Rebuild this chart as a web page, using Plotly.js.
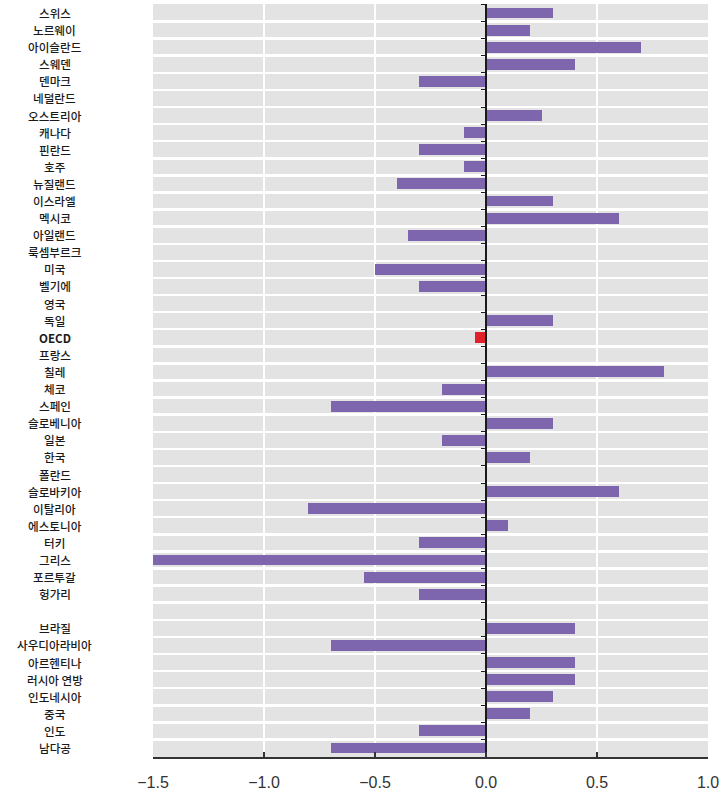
<!DOCTYPE html>
<html>
<head>
<meta charset="utf-8">
<script src="https://cdn.plot.ly/plotly-3.0.1.min.js"></script>
<style>html,body{margin:0;padding:0;background:#fff;}#chart{width:723px;height:793px;}</style>
</head>
<body>
<div id="chart"></div>
<script>
// Categories top to bottom (' ' is the empty spacer row)
const categories = ['스위스','노르웨이','아이슬란드','스웨덴','덴마크','네덜란드','오스트리아','캐나다','핀란드','호주',
  '뉴질랜드','이스라엘','멕시코','아일랜드','룩셈부르크','미국','벨기에','영국','독일','OECD',
  '프랑스','칠레','체코','스페인','슬로베니아','일본','한국','폴란드','슬로바키아','이탈리아',
  '에스토니아','터키','그리스','포르투갈','헝가리',' ',
  '브라질','사우디아라비아','아르헨티나','러시아 연방','인도네시아','중국','인도','남다공'];
const values = [0.3,0.2,0.7,0.4,-0.3,0,0.25,-0.1,-0.3,-0.1,
  -0.4,0.3,0.6,-0.35,0,-0.5,-0.3,0,0.3,-0.05,
  0,0.8,-0.2,-0.7,0.3,-0.2,0.2,0,0.6,-0.8,
  0.1,-0.3,-1.5,-0.55,-0.3,null,
  0.4,-0.7,0.4,0.4,0.3,0.2,-0.3,-0.7];
const highlight = 'OECD';
const xTicks = [-1.5,-1.0,-0.5,0.0,0.5,1.0];

const purple = '#7d66ae', red = '#e0202a';
const colors = categories.map(c => c === highlight ? red : purple);

const trace = {
  type: 'bar', orientation: 'h',
  y: categories, x: values,
  marker: {color: colors, line: {width: 0}},
  width: 0.64,
  hoverinfo: 'x+y'
};

const annotations = categories.filter(c => c.trim() !== '').map(c => ({
  xref: 'paper', yref: 'y', x: -0.177, y: c, xanchor: 'center', yanchor: 'middle',
  borderpad: 0,
  text: c === highlight ? '<b>' + c + '</b>' : c, showarrow: false,
  font: {family: '"Noto Sans CJK KR", "Noto Sans", sans-serif', size: 11.6, weight: 500, color: '#1a1a1a'}
}));

const layout = {
  width: 723, height: 793,
  margin: {l: 153, r: 15, t: 4, b: 36},
  paper_bgcolor: '#ffffff', plot_bgcolor: '#e3e3e3',
  showlegend: false,
  bargap: 0,
  xaxis: {
    range: [-1.5, 1.0], tickvals: xTicks, tickformat: '.1f',
    showgrid: true, gridcolor: '#ffffff', gridwidth: 2,
    zeroline: false,
    showline: true, linecolor: '#333333', linewidth: 1.5,
    ticks: 'inside', ticklen: 5, tickcolor: '#333333', tickwidth: 1.2,
    ticklabelstandoff: 10,
    tickfont: {family: '"Liberation Sans", Arial, sans-serif', size: 16, color: '#333333'},
    fixedrange: true
  },
  yaxis: {
    type: 'category', categoryorder: 'array', categoryarray: categories,
    autorange: 'reversed',
    anchor: 'free', position: 0.6,
    tickson: 'boundaries',
    showgrid: true, gridcolor: '#ffffff', gridwidth: 2.5,
    showline: true, linecolor: '#1a1a1a', linewidth: 2,
    ticks: 'outside', ticklen: 4, tickcolor: '#1a1a1a', tickwidth: 1,
    showticklabels: false, zeroline: false,
    fixedrange: true
  },
  annotations: annotations
};

Plotly.newPlot('chart', [trace], layout, {displayModeBar: false, staticPlot: true});
</script>
</body>
</html>
